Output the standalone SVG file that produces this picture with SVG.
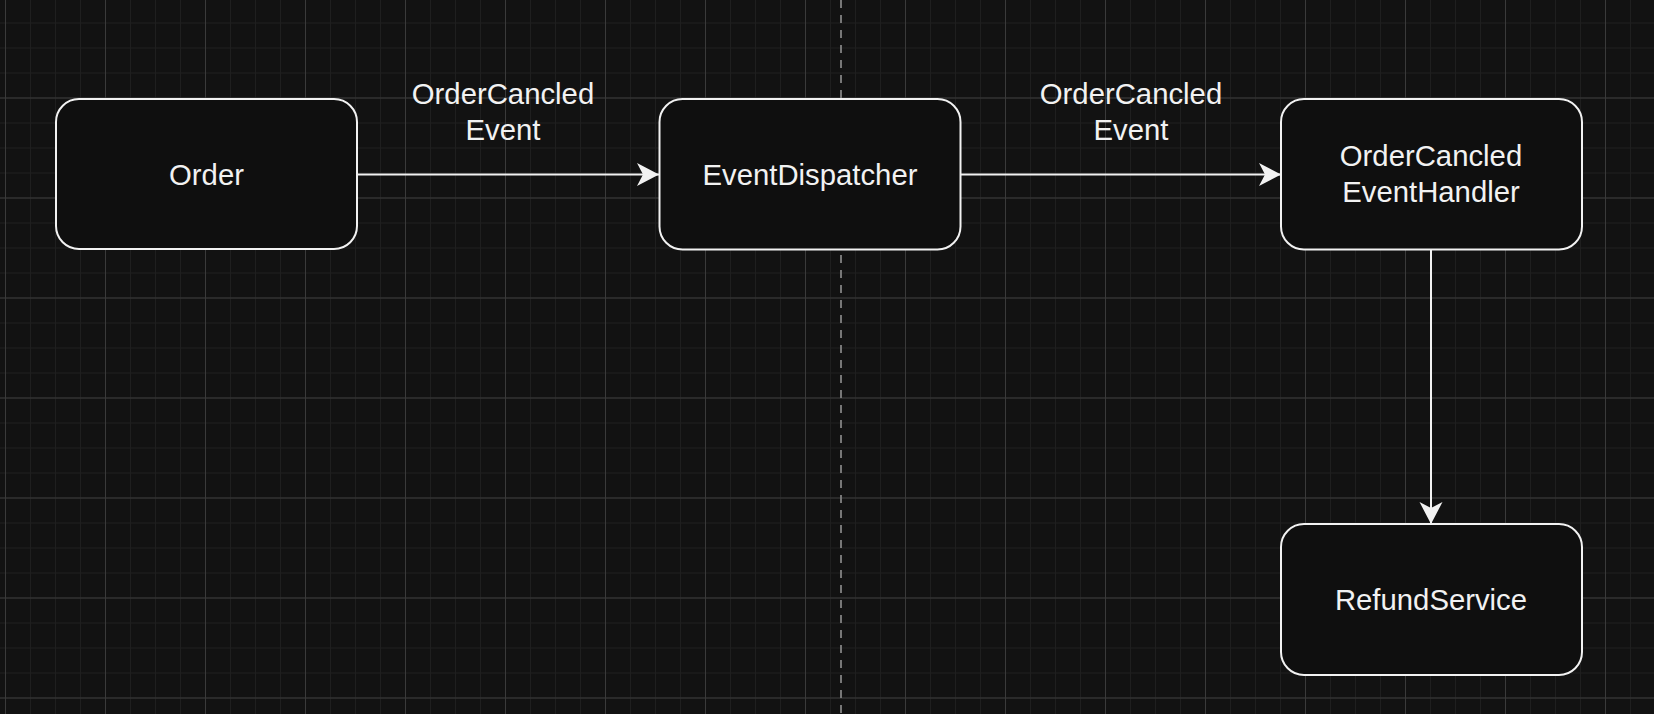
<svg xmlns="http://www.w3.org/2000/svg" width="1654" height="714" viewBox="0 0 1654 714">
  <style>
    .node rect { fill: #0f0f0f; stroke: #f2f2f2; stroke-width: 2; }
    .lbl { font-family: "Liberation Sans", Arial, Helvetica, sans-serif; font-size: 29.3px; fill: #f2f2f2; text-anchor: middle; }
    .edge { stroke: #f2f2f2; stroke-width: 2; fill: none; }
  </style>
  <defs>
    <pattern id="minor" patternUnits="userSpaceOnUse" x="5" y="-2.5" width="25" height="25">
      <path d="M0.5 0 V25 M0 0.5 H25" stroke="#1f1f1f" stroke-width="1" fill="none"/>
    </pattern>
    <pattern id="major" patternUnits="userSpaceOnUse" x="5" y="-2.5" width="100" height="100">
      <path d="M0.5 0 V100 M0 0.5 H100" stroke="#3a3a3a" stroke-width="1" fill="none"/>
    </pattern>
    <marker id="arrow" markerUnits="userSpaceOnUse" markerWidth="23" markerHeight="24" viewBox="0 0 23 24" refX="22.5" refY="12" orient="auto">
      <path d="M0.5 0.5 L22.5 12 L0.5 23.5 L6.5 12 Z" fill="#f2f2f2"/>
    </marker>
  </defs>

  <rect x="0" y="0" width="1654" height="714" fill="#121212"/>
  <rect x="0" y="0" width="1654" height="714" fill="url(#minor)"/>
  <rect x="0" y="0" width="1654" height="714" fill="url(#major)"/>
  <line x1="841" y1="0" x2="841" y2="714" stroke="#777777" stroke-width="2" stroke-dasharray="8 7"/>

  <g id="connectors">
    <g id="edge-order-dispatcher">
      <line class="edge" x1="357" y1="174.5" x2="659" y2="174.5" marker-end="url(#arrow)"/>
      <text class="lbl" x="503" y="103.5">OrderCancled</text>
      <text class="lbl" x="503" y="140">Event</text>
    </g>
    <g id="edge-dispatcher-handler">
      <line class="edge" x1="961" y1="174.5" x2="1281" y2="174.5" marker-end="url(#arrow)"/>
      <text class="lbl" x="1131" y="103.5">OrderCancled</text>
      <text class="lbl" x="1131" y="140">Event</text>
    </g>
    <g id="edge-handler-refund">
      <line class="edge" x1="1431" y1="250" x2="1431" y2="524" marker-end="url(#arrow)"/>
    </g>
  </g>

  <g id="node-order" class="node">
    <rect x="56" y="99" width="301" height="150" rx="23" ry="23"/>
    <text class="lbl" x="206.5" y="185">Order</text>
  </g>
  <g id="node-dispatcher" class="node">
    <rect x="659.5" y="99" width="301" height="150.5" rx="23" ry="23"/>
    <text class="lbl" x="810" y="185">EventDispatcher</text>
  </g>
  <g id="node-handler" class="node">
    <rect x="1281" y="99" width="301" height="150.5" rx="23" ry="23"/>
    <text class="lbl" x="1431" y="166">OrderCancled</text>
    <text class="lbl" x="1431" y="202">EventHandler</text>
  </g>
  <g id="node-refund" class="node">
    <rect x="1281" y="524" width="301" height="151" rx="23" ry="23"/>
    <text class="lbl" x="1431" y="609.5">RefundService</text>
  </g>
</svg>
